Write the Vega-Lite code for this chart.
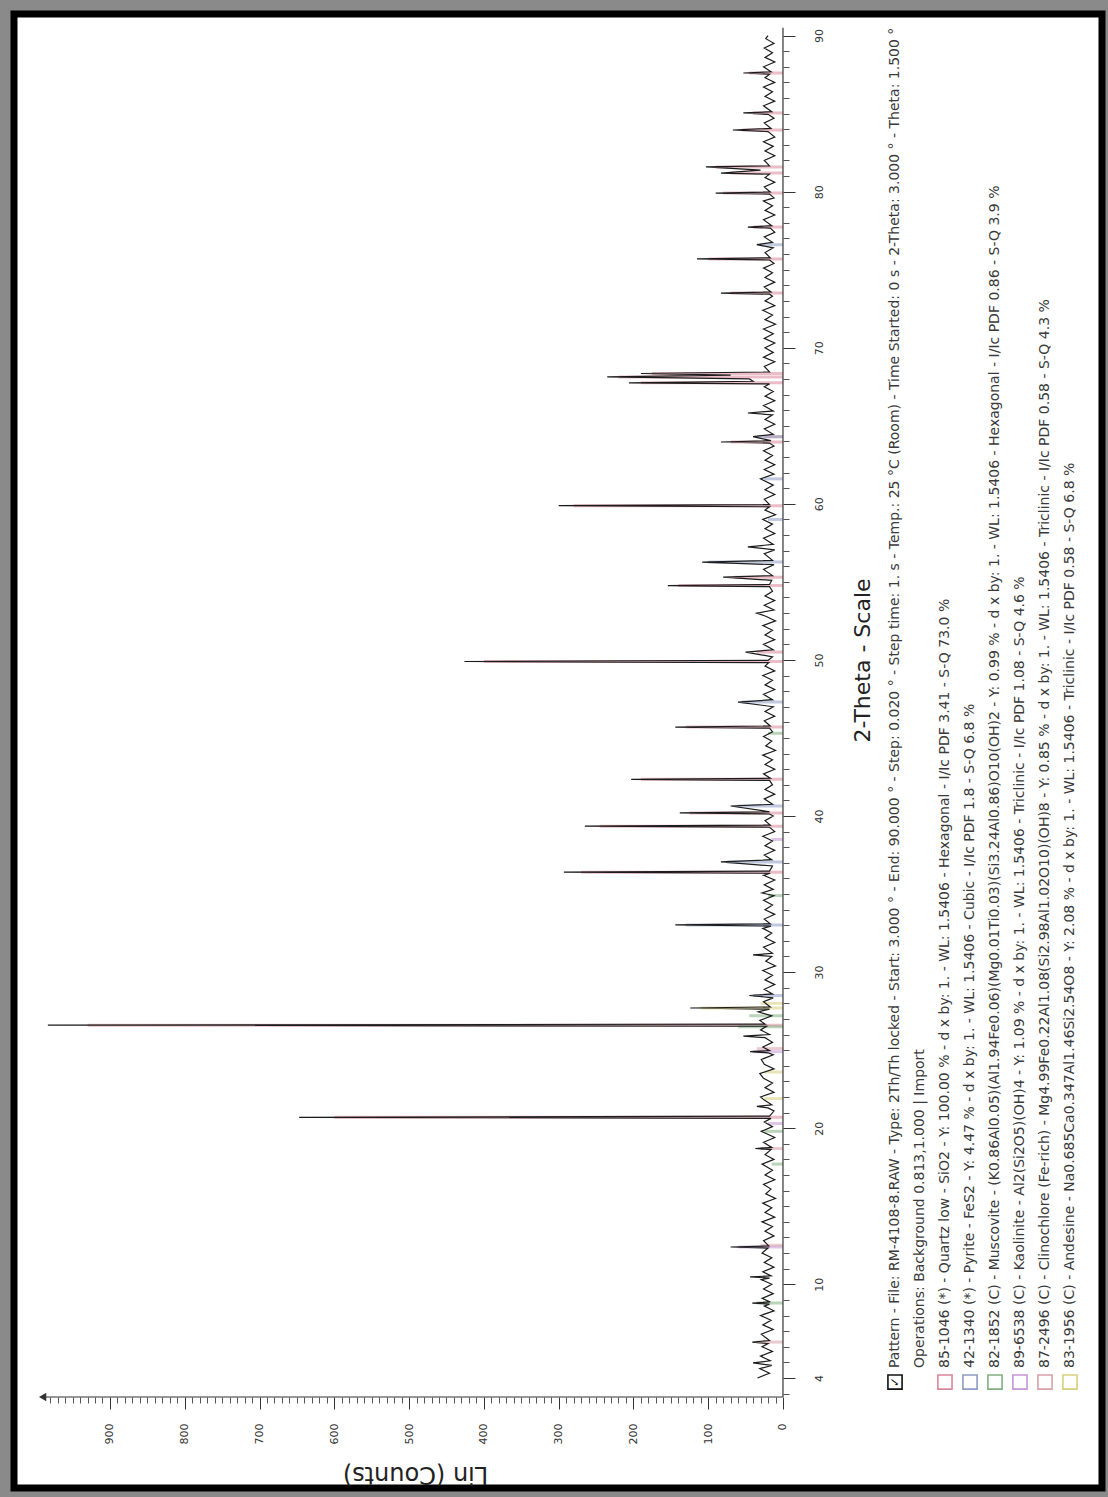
{
"$schema": "https://vega.github.io/schema/vega-lite/v6.json",
"width": 1088, "height": 1474,
"autosize": {"type": "none"},
"padding": {"left": 14, "top": 14, "right": 6, "bottom": 9},
"background": "#8a8a8a",
"config": {"view": {"fill": "white", "stroke": "black", "strokeWidth": 7}, "font": "DejaVu Sans", "axis": {"grid": false}},
"resolve": {"axis": {"x": "independent", "y": "independent"}},
"datasets": {
"pattern": [
{"t":4.0,"c":34},{"t":4.3,"c":18},{"t":4.6,"c":31},{"t":4.8,"c":15},{"t":4.96,"c":40},{"t":5.1,"c":17},{"t":5.4,"c":30},{"t":5.7,"c":14},{"t":6.0,"c":28},{"t":6.2,"c":20},{"t":6.3,"c":41},{"t":6.4,"c":18},{"t":6.8,"c":29},{"t":7.1,"c":13},{"t":7.4,"c":27},{"t":7.7,"c":16},{"t":8.0,"c":30},{"t":8.3,"c":12},{"t":8.6,"c":25},{"t":8.73,"c":18},{"t":8.8,"c":41},{"t":8.87,"c":17},{"t":9.1,"c":28},{"t":9.4,"c":13},{"t":9.7,"c":26},{"t":10.0,"c":15},{"t":10.3,"c":29},{"t":10.4,"c":18},{"t":10.47,"c":44},{"t":10.54,"c":16},{"t":10.8,"c":27},{"t":11.1,"c":12},{"t":11.4,"c":25},{"t":11.7,"c":15},{"t":12.0,"c":28},{"t":12.32,"c":20},{"t":12.39,"c":70},{"t":12.46,"c":19},{"t":12.8,"c":26},{"t":13.1,"c":12},{"t":13.4,"c":24},{"t":13.7,"c":14},{"t":14.0,"c":28},{"t":14.3,"c":11},{"t":14.6,"c":24},{"t":14.9,"c":15},{"t":15.2,"c":27},{"t":15.5,"c":10},{"t":15.8,"c":23},{"t":16.1,"c":16},{"t":16.4,"c":26},{"t":16.7,"c":11},{"t":17.0,"c":24},{"t":17.3,"c":14},{"t":17.7,"c":28},{"t":18.0,"c":12},{"t":18.3,"c":24},{"t":18.63,"c":16},{"t":18.7,"c":37},{"t":18.77,"c":15},{"t":19.1,"c":26},{"t":19.4,"c":11},{"t":19.8,"c":29},{"t":20.1,"c":14},{"t":20.4,"c":25},{"t":20.63,"c":16},{"t":20.7,"c":647},{"t":20.77,"c":18},{"t":21.1,"c":12},{"t":21.3,"c":20},{"t":21.4,"c":35},{"t":21.5,"c":15},{"t":21.8,"c":25},{"t":22.0,"c":30},{"t":22.3,"c":12},{"t":22.6,"c":24},{"t":22.9,"c":14},{"t":23.2,"c":26},{"t":23.5,"c":31},{"t":23.8,"c":12},{"t":24.1,"c":25},{"t":24.4,"c":29},{"t":24.7,"c":13},{"t":24.83,"c":20},{"t":24.9,"c":44},{"t":24.97,"c":18},{"t":25.2,"c":27},{"t":25.5,"c":14},{"t":25.8,"c":24},{"t":25.9,"c":53},{"t":26.0,"c":18},{"t":26.3,"c":30},{"t":26.53,"c":22},{"t":26.6,"c":983},{"t":26.67,"c":24},{"t":26.9,"c":31},{"t":27.2,"c":15},{"t":27.45,"c":33},{"t":27.63,"c":18},{"t":27.7,"c":124},{"t":27.77,"c":17},{"t":28.1,"c":26},{"t":28.35,"c":13},{"t":28.5,"c":45},{"t":28.6,"c":14},{"t":28.9,"c":25},{"t":29.2,"c":11},{"t":29.5,"c":24},{"t":29.8,"c":14},{"t":30.1,"c":27},{"t":30.4,"c":10},{"t":30.7,"c":23},{"t":31.0,"c":15},{"t":31.1,"c":40},{"t":31.2,"c":14},{"t":31.6,"c":26},{"t":31.9,"c":11},{"t":32.2,"c":24},{"t":32.5,"c":15},{"t":32.8,"c":27},{"t":32.95,"c":16},{"t":33.02,"c":144},{"t":33.09,"c":17},{"t":33.4,"c":25},{"t":33.7,"c":11},{"t":34.0,"c":24},{"t":34.3,"c":14},{"t":34.6,"c":26},{"t":34.9,"c":12},{"t":35.07,"c":28},{"t":35.3,"c":13},{"t":35.6,"c":25},{"t":35.9,"c":11},{"t":36.2,"c":26},{"t":36.33,"c":17},{"t":36.4,"c":293},{"t":36.47,"c":18},{"t":36.8,"c":14},{"t":37.06,"c":83},{"t":37.2,"c":15},{"t":37.5,"c":25},{"t":37.8,"c":11},{"t":38.1,"c":24},{"t":38.4,"c":14},{"t":38.7,"c":27},{"t":39.0,"c":11},{"t":39.28,"c":18},{"t":39.35,"c":265},{"t":39.42,"c":17},{"t":39.7,"c":24},{"t":40.0,"c":13},{"t":40.13,"c":18},{"t":40.2,"c":138},{"t":40.27,"c":18},{"t":40.64,"c":70},{"t":40.75,"c":14},{"t":41.1,"c":25},{"t":41.4,"c":11},{"t":41.7,"c":24},{"t":42.0,"c":14},{"t":42.28,"c":18},{"t":42.35,"c":203},{"t":42.42,"c":17},{"t":42.7,"c":26},{"t":43.0,"c":11},{"t":43.3,"c":24},{"t":43.6,"c":14},{"t":43.9,"c":27},{"t":44.2,"c":10},{"t":44.5,"c":23},{"t":44.8,"c":15},{"t":45.1,"c":26},{"t":45.4,"c":14},{"t":45.63,"c":18},{"t":45.7,"c":144},{"t":45.77,"c":17},{"t":46.1,"c":25},{"t":46.4,"c":11},{"t":46.7,"c":24},{"t":47.0,"c":13},{"t":47.3,"c":60},{"t":47.45,"c":14},{"t":47.8,"c":26},{"t":48.1,"c":11},{"t":48.4,"c":24},{"t":48.7,"c":14},{"t":49.0,"c":27},{"t":49.3,"c":11},{"t":49.6,"c":24},{"t":49.83,"c":19},{"t":49.9,"c":426},{"t":49.97,"c":20},{"t":50.2,"c":14},{"t":50.5,"c":50},{"t":50.65,"c":13},{"t":51.0,"c":26},{"t":51.3,"c":11},{"t":51.6,"c":24},{"t":51.9,"c":14},{"t":52.2,"c":27},{"t":52.5,"c":10},{"t":52.8,"c":23},{"t":53.0,"c":35},{"t":53.2,"c":12},{"t":53.5,"c":25},{"t":53.8,"c":11},{"t":54.1,"c":24},{"t":54.4,"c":14},{"t":54.69,"c":18},{"t":54.76,"c":154},{"t":54.83,"c":18},{"t":55.1,"c":15},{"t":55.3,"c":80},{"t":55.4,"c":14},{"t":55.8,"c":26},{"t":56.1,"c":12},{"t":56.27,"c":108},{"t":56.38,"c":14},{"t":56.8,"c":25},{"t":57.05,"c":11},{"t":57.24,"c":47},{"t":57.4,"c":13},{"t":57.8,"c":26},{"t":58.1,"c":11},{"t":58.4,"c":24},{"t":58.7,"c":14},{"t":59.0,"c":27},{"t":59.3,"c":10},{"t":59.6,"c":24},{"t":59.81,"c":18},{"t":59.88,"c":300},{"t":59.95,"c":18},{"t":60.3,"c":25},{"t":60.6,"c":11},{"t":60.9,"c":24},{"t":61.2,"c":13},{"t":61.6,"c":30},{"t":61.9,"c":12},{"t":62.2,"c":25},{"t":62.5,"c":11},{"t":62.8,"c":24},{"t":63.1,"c":14},{"t":63.4,"c":26},{"t":63.7,"c":12},{"t":63.89,"c":18},{"t":63.96,"c":83},{"t":64.05,"c":16},{"t":64.3,"c":40},{"t":64.45,"c":13},{"t":64.8,"c":25},{"t":65.1,"c":11},{"t":65.4,"c":24},{"t":65.7,"c":14},{"t":65.82,"c":47},{"t":65.95,"c":13},{"t":66.3,"c":26},{"t":66.6,"c":11},{"t":66.9,"c":24},{"t":67.2,"c":13},{"t":67.5,"c":25},{"t":67.68,"c":18},{"t":67.75,"c":206},{"t":67.85,"c":40},{"t":68.0,"c":45},{"t":68.13,"c":235},{"t":68.24,"c":70},{"t":68.35,"c":190},{"t":68.45,"c":18},{"t":68.8,"c":25},{"t":69.1,"c":11},{"t":69.4,"c":26},{"t":69.7,"c":13},{"t":70.0,"c":24},{"t":70.3,"c":11},{"t":70.6,"c":25},{"t":70.9,"c":13},{"t":71.2,"c":26},{"t":71.5,"c":10},{"t":71.8,"c":24},{"t":72.1,"c":14},{"t":72.4,"c":27},{"t":72.7,"c":11},{"t":73.0,"c":24},{"t":73.3,"c":14},{"t":73.43,"c":18},{"t":73.5,"c":83},{"t":73.57,"c":16},{"t":73.9,"c":25},{"t":74.2,"c":11},{"t":74.5,"c":24},{"t":74.8,"c":14},{"t":75.1,"c":26},{"t":75.4,"c":12},{"t":75.62,"c":18},{"t":75.69,"c":115},{"t":75.76,"c":17},{"t":76.1,"c":24},{"t":76.4,"c":13},{"t":76.6,"c":35},{"t":76.75,"c":14},{"t":77.1,"c":25},{"t":77.4,"c":11},{"t":77.66,"c":17},{"t":77.73,"c":47},{"t":77.82,"c":15},{"t":78.2,"c":26},{"t":78.5,"c":11},{"t":78.8,"c":24},{"t":79.1,"c":14},{"t":79.4,"c":26},{"t":79.6,"c":12},{"t":79.84,"c":18},{"t":79.91,"c":90},{"t":79.98,"c":17},{"t":80.3,"c":25},{"t":80.6,"c":11},{"t":80.9,"c":24},{"t":81.12,"c":18},{"t":81.19,"c":83},{"t":81.38,"c":30},{"t":81.58,"c":103},{"t":81.65,"c":18},{"t":82.0,"c":25},{"t":82.3,"c":11},{"t":82.6,"c":24},{"t":82.9,"c":13},{"t":83.2,"c":26},{"t":83.5,"c":11},{"t":83.85,"c":20},{"t":83.95,"c":67},{"t":84.05,"c":16},{"t":84.4,"c":25},{"t":84.7,"c":12},{"t":84.95,"c":20},{"t":85.04,"c":53},{"t":85.12,"c":15},{"t":85.5,"c":26},{"t":85.8,"c":11},{"t":86.1,"c":24},{"t":86.4,"c":14},{"t":86.7,"c":26},{"t":87.0,"c":11},{"t":87.3,"c":24},{"t":87.52,"c":18},{"t":87.6,"c":53},{"t":87.68,"c":16},{"t":88.0,"c":26},{"t":88.3,"c":11},{"t":88.6,"c":24},{"t":88.9,"c":14},{"t":89.2,"c":25},{"t":89.5,"c":12},{"t":89.8,"c":23},{"t":90.0,"c":20}
],
"sticks": [
{"phase":"Quartz","t":20.7,"h":600},{"phase":"Quartz","t":26.6,"h":930},{"phase":"Quartz","t":36.4,"h":270},{"phase":"Quartz","t":39.35,"h":245},{"phase":"Quartz","t":40.2,"h":125},{"phase":"Quartz","t":42.35,"h":190},{"phase":"Quartz","t":45.7,"h":130},{"phase":"Quartz","t":49.9,"h":400},{"phase":"Quartz","t":50.5,"h":35},{"phase":"Quartz","t":54.76,"h":140},{"phase":"Quartz","t":55.3,"h":65},{"phase":"Quartz","t":59.88,"h":280},{"phase":"Quartz","t":63.96,"h":70},{"phase":"Quartz","t":64.3,"h":25},{"phase":"Quartz","t":67.75,"h":190},{"phase":"Quartz","t":68.13,"h":220},{"phase":"Quartz","t":68.35,"h":175},{"phase":"Quartz","t":73.5,"h":70},{"phase":"Quartz","t":75.69,"h":100},{"phase":"Quartz","t":77.73,"h":40},{"phase":"Quartz","t":79.91,"h":80},{"phase":"Quartz","t":81.19,"h":70},{"phase":"Quartz","t":81.58,"h":90},{"phase":"Quartz","t":83.95,"h":55},{"phase":"Quartz","t":85.04,"h":40},{"phase":"Quartz","t":87.6,"h":45},
{"phase":"Pyrite","t":28.5,"h":40},{"phase":"Pyrite","t":33.02,"h":130},{"phase":"Pyrite","t":37.06,"h":75},{"phase":"Pyrite","t":40.64,"h":60},{"phase":"Pyrite","t":47.3,"h":55},{"phase":"Pyrite","t":56.27,"h":100},{"phase":"Pyrite","t":59.0,"h":20},{"phase":"Pyrite","t":61.6,"h":25},{"phase":"Pyrite","t":64.3,"h":35},{"phase":"Pyrite","t":76.6,"h":30},
{"phase":"Muscovite","t":8.8,"h":35},{"phase":"Muscovite","t":17.7,"h":15},{"phase":"Muscovite","t":19.8,"h":25},{"phase":"Muscovite","t":26.5,"h":60},{"phase":"Muscovite","t":27.2,"h":45},{"phase":"Muscovite","t":34.9,"h":20},{"phase":"Muscovite","t":45.3,"h":20},
{"phase":"Kaolinite","t":12.39,"h":60},{"phase":"Kaolinite","t":20.3,"h":20},{"phase":"Kaolinite","t":24.9,"h":40},{"phase":"Kaolinite","t":38.5,"h":15},
{"phase":"Clinochlore","t":6.3,"h":35},{"phase":"Clinochlore","t":12.5,"h":30},{"phase":"Clinochlore","t":18.7,"h":30},{"phase":"Clinochlore","t":25.1,"h":35},
{"phase":"Andesine","t":21.9,"h":25},{"phase":"Andesine","t":23.6,"h":25},{"phase":"Andesine","t":27.7,"h":110},{"phase":"Andesine","t":28.0,"h":30}
],
"axislines": [
{"c":0,"c2":987,"t":2.78,"t2":2.78},
{"c":0,"c2":0,"t":2.78,"t2":90.5}
],
"arrow": [{"c":990,"t":2.78}],
"legendText": [
{"c":-149.8,"t":4.64,"text":"Pattern - File: RM-4108-8.RAW - Type: 2Th/Th locked - Start: 3.000 ° - End: 90.000 ° - Step: 0.020 ° - Step time: 1. s - Temp.: 25 °C (Room) - Time Started: 0 s - 2-Theta: 3.000 ° - Theta: 1.500 °"},
{"c":-183.2,"t":4.64,"text":"Operations: Background 0.813,1.000 | Import"},
{"c":-216.6,"t":4.64,"text":"85-1046 (*) - Quartz low - SiO2 - Y: 100.00 % - d x by: 1. - WL: 1.5406 - Hexagonal - I/Ic PDF 3.41 - S-Q 73.0 %"},
{"c":-250.1,"t":4.64,"text":"42-1340 (*) - Pyrite - FeS2 - Y: 4.47 % - d x by: 1. - WL: 1.5406 - Cubic - I/Ic PDF 1.8 - S-Q 6.8 %"},
{"c":-283.5,"t":4.64,"text":"82-1852 (C) - Muscovite - (K0.86Al0.05)(Al1.94Fe0.06)(Mg0.01Ti0.03)(Si3.24Al0.86)O10(OH)2 - Y: 0.99 % - d x by: 1. - WL: 1.5406 - Hexagonal - I/Ic PDF 0.86 - S-Q 3.9 %"},
{"c":-316.9,"t":4.64,"text":"89-6538 (C) - Kaolinite - Al2(Si2O5)(OH)4 - Y: 1.09 % - d x by: 1. - WL: 1.5406 - Triclinic - I/Ic PDF 1.08 - S-Q 4.6 %"},
{"c":-350.4,"t":4.64,"text":"87-2496 (C) - Clinochlore (Fe-rich) - Mg4.99Fe0.22Al1.08(Si2.98Al1.02O10)(OH)8 - Y: 0.85 % - d x by: 1. - WL: 1.5406 - Triclinic - I/Ic PDF 0.58 - S-Q 4.3 %"},
{"c":-383.8,"t":4.64,"text":"83-1956 (C) - Andesine - Na0.685Ca0.347Al1.46Si2.54O8 - Y: 2.08 % - d x by: 1. - WL: 1.5406 - Triclinic - I/Ic PDF 0.58 - S-Q 6.8 %"}
],
"legendBoxes": [
{"phase":"Pattern","c":-149.8,"t":3.74},
{"phase":"Quartz","c":-216.6,"t":3.74},
{"phase":"Pyrite","c":-250.1,"t":3.74},
{"phase":"Muscovite","c":-283.5,"t":3.74},
{"phase":"Kaolinite","c":-316.9,"t":3.74},
{"phase":"Clinochlore","c":-350.4,"t":3.74},
{"phase":"Andesine","c":-383.8,"t":3.74}
],
"check": [{"c":-149.8,"t":3.74,"text":"✓"}]
},
"layer": [
{
"data": {"name": "sticks"},
"mark": {"type": "rule", "strokeWidth": 3, "opacity": 0.55},
"encoding": {
"y": {"field": "t", "type": "quantitative", "scale": {"domain": [-3.05, 91.38], "nice": false, "zero": false}, "axis": null},
"x": {"field": "h", "type": "quantitative", "scale": {"domain": [-426.6, 1028.3], "reverse": true, "nice": false, "zero": false}, "axis": null},
"x2": {"datum": 0},
"color": {"field": "phase", "type": "nominal", "scale": {"domain": ["Pattern","Quartz","Pyrite","Muscovite","Kaolinite","Clinochlore","Andesine"], "range": ["#111111","#d9879a","#8c9cc4","#7fb07f","#c596d8","#d9a0a8","#d8cf7e"]}, "legend": null}
}
},
{
"data": {"name": "pattern"},
"mark": {"type": "line", "color": "#1c1c1c", "strokeWidth": 1.2},
"encoding": {
"x": {"field": "c", "type": "quantitative", "scale": {"domain": [-426.6, 1028.3], "reverse": true, "nice": false, "zero": false},
 "axis": {"orient": "bottom", "offset": -91, "values": [0,100,200,300,400,500,600,700,800,900], "domain": false, "ticks": true, "tickSize": 12, "tickColor": "#333333", "labelAngle": -90, "labelAlign": "right", "labelBaseline": "middle", "labelPadding": 14, "labelFontSize": 11, "labelColor": "#333333", "labelFlush": false, "labelOverlap": false, "grid": false,
 "title": "Lin (Counts)", "titleAngle": 180, "titleX": 401, "titleY": 76, "titleFontSize": 24, "titleFontWeight": "normal", "titleColor": "#222222", "titleAlign": "center", "titleBaseline": "middle"}},
"y": {"field": "t", "type": "quantitative", "scale": {"domain": [-3.05, 91.38], "nice": false, "zero": false},
 "axis": {"orient": "right", "offset": -319, "values": [4,10,20,30,40,50,60,70,80,90], "domain": false, "ticks": true, "tickSize": 12, "tickColor": "#333333", "labelAngle": -90, "labelAlign": "center", "labelBaseline": "top", "labelPadding": 18, "labelFontSize": 11, "labelColor": "#333333", "labelFlush": false, "labelOverlap": false, "grid": false,
 "title": "2-Theta - Scale", "titleAngle": -90, "titleX": 79, "titleY": 646, "titleFontSize": 22, "titleFontWeight": "normal", "titleColor": "#222222", "titleAlign": "center", "titleBaseline": "middle"}},
"order": {"field": "t", "type": "quantitative"}
}
},
{
"data": {"name": "axislines"},
"mark": {"type": "rule", "color": "#333333", "strokeWidth": 1.2},
"encoding": {
"x": {"field": "c", "type": "quantitative", "scale": {"domain": [-426.6, 1028.3], "reverse": true, "nice": false, "zero": false},
 "axis": {"orient": "bottom", "offset": -91, "values": [10,20,30,40,50,60,70,80,90,110,120,130,140,150,160,170,180,190,210,220,230,240,250,260,270,280,290,310,320,330,340,350,360,370,380,390,410,420,430,440,450,460,470,480,490,510,520,530,540,550,560,570,580,590,610,620,630,640,650,660,670,680,690,710,720,730,740,750,760,770,780,790,810,820,830,840,850,860,870,880,890,910,920,930,940,950,960,970,980], "domain": false, "labels": false, "tickSize": 6, "tickColor": "#555555", "title": null, "grid": false}},
"x2": {"field": "c2"},
"y": {"field": "t", "type": "quantitative", "scale": {"domain": [-3.05, 91.38], "nice": false, "zero": false},
 "axis": {"orient": "right", "offset": -319, "values": [3,5,6,7,8,9,11,12,13,14,15,16,17,18,19,21,22,23,24,25,26,27,28,29,31,32,33,34,35,36,37,38,39,41,42,43,44,45,46,47,48,49,51,52,53,54,55,56,57,58,59,61,62,63,64,65,66,67,68,69,71,72,73,74,75,76,77,78,79,81,82,83,84,85,86,87,88,89], "domain": false, "labels": false, "tickSize": 6, "tickColor": "#555555", "title": null, "grid": false}},
"y2": {"field": "t2"}
}
},
{
"data": {"name": "arrow"},
"mark": {"type": "point", "shape": "triangle-left", "filled": true, "size": 70, "color": "#333333", "opacity": 1},
"encoding": {
"x": {"field": "c", "type": "quantitative", "scale": {"domain": [-426.6, 1028.3], "reverse": true, "nice": false, "zero": false}, "axis": null},
"y": {"field": "t", "type": "quantitative", "scale": {"domain": [-3.05, 91.38], "nice": false, "zero": false}, "axis": null}
}
},
{
"data": {"name": "legendText"},
"mark": {"type": "text", "angle": -90, "align": "left", "baseline": "middle", "fontSize": 14, "font": "DejaVu Sans", "color": "#3a3a3a"},
"encoding": {
"x": {"field": "c", "type": "quantitative", "scale": {"domain": [-426.6, 1028.3], "reverse": true, "nice": false, "zero": false}, "axis": null},
"y": {"field": "t", "type": "quantitative", "scale": {"domain": [-3.05, 91.38], "nice": false, "zero": false}, "axis": null},
"text": {"field": "text"}
}
},
{
"data": {"name": "legendBoxes"},
"mark": {"type": "point", "shape": "square", "filled": false, "fill": "white", "size": 200, "strokeWidth": 1.6, "opacity": 1},
"encoding": {
"x": {"field": "c", "type": "quantitative", "scale": {"domain": [-426.6, 1028.3], "reverse": true, "nice": false, "zero": false}, "axis": null},
"y": {"field": "t", "type": "quantitative", "scale": {"domain": [-3.05, 91.38], "nice": false, "zero": false}, "axis": null},
"color": {"field": "phase", "type": "nominal", "scale": {"domain": ["Pattern","Quartz","Pyrite","Muscovite","Kaolinite","Clinochlore","Andesine"], "range": ["#111111","#d9879a","#8c9cc4","#7fb07f","#c596d8","#d9a0a8","#d8cf7e"]}, "legend": null}
}
},
{
"data": {"name": "check"},
"mark": {"type": "text", "angle": -90, "align": "center", "baseline": "middle", "fontSize": 12, "font": "DejaVu Sans", "color": "#111111"},
"encoding": {
"x": {"field": "c", "type": "quantitative", "scale": {"domain": [-426.6, 1028.3], "reverse": true, "nice": false, "zero": false}, "axis": null},
"y": {"field": "t", "type": "quantitative", "scale": {"domain": [-3.05, 91.38], "nice": false, "zero": false}, "axis": null},
"text": {"field": "text"}
}
}
]
}
